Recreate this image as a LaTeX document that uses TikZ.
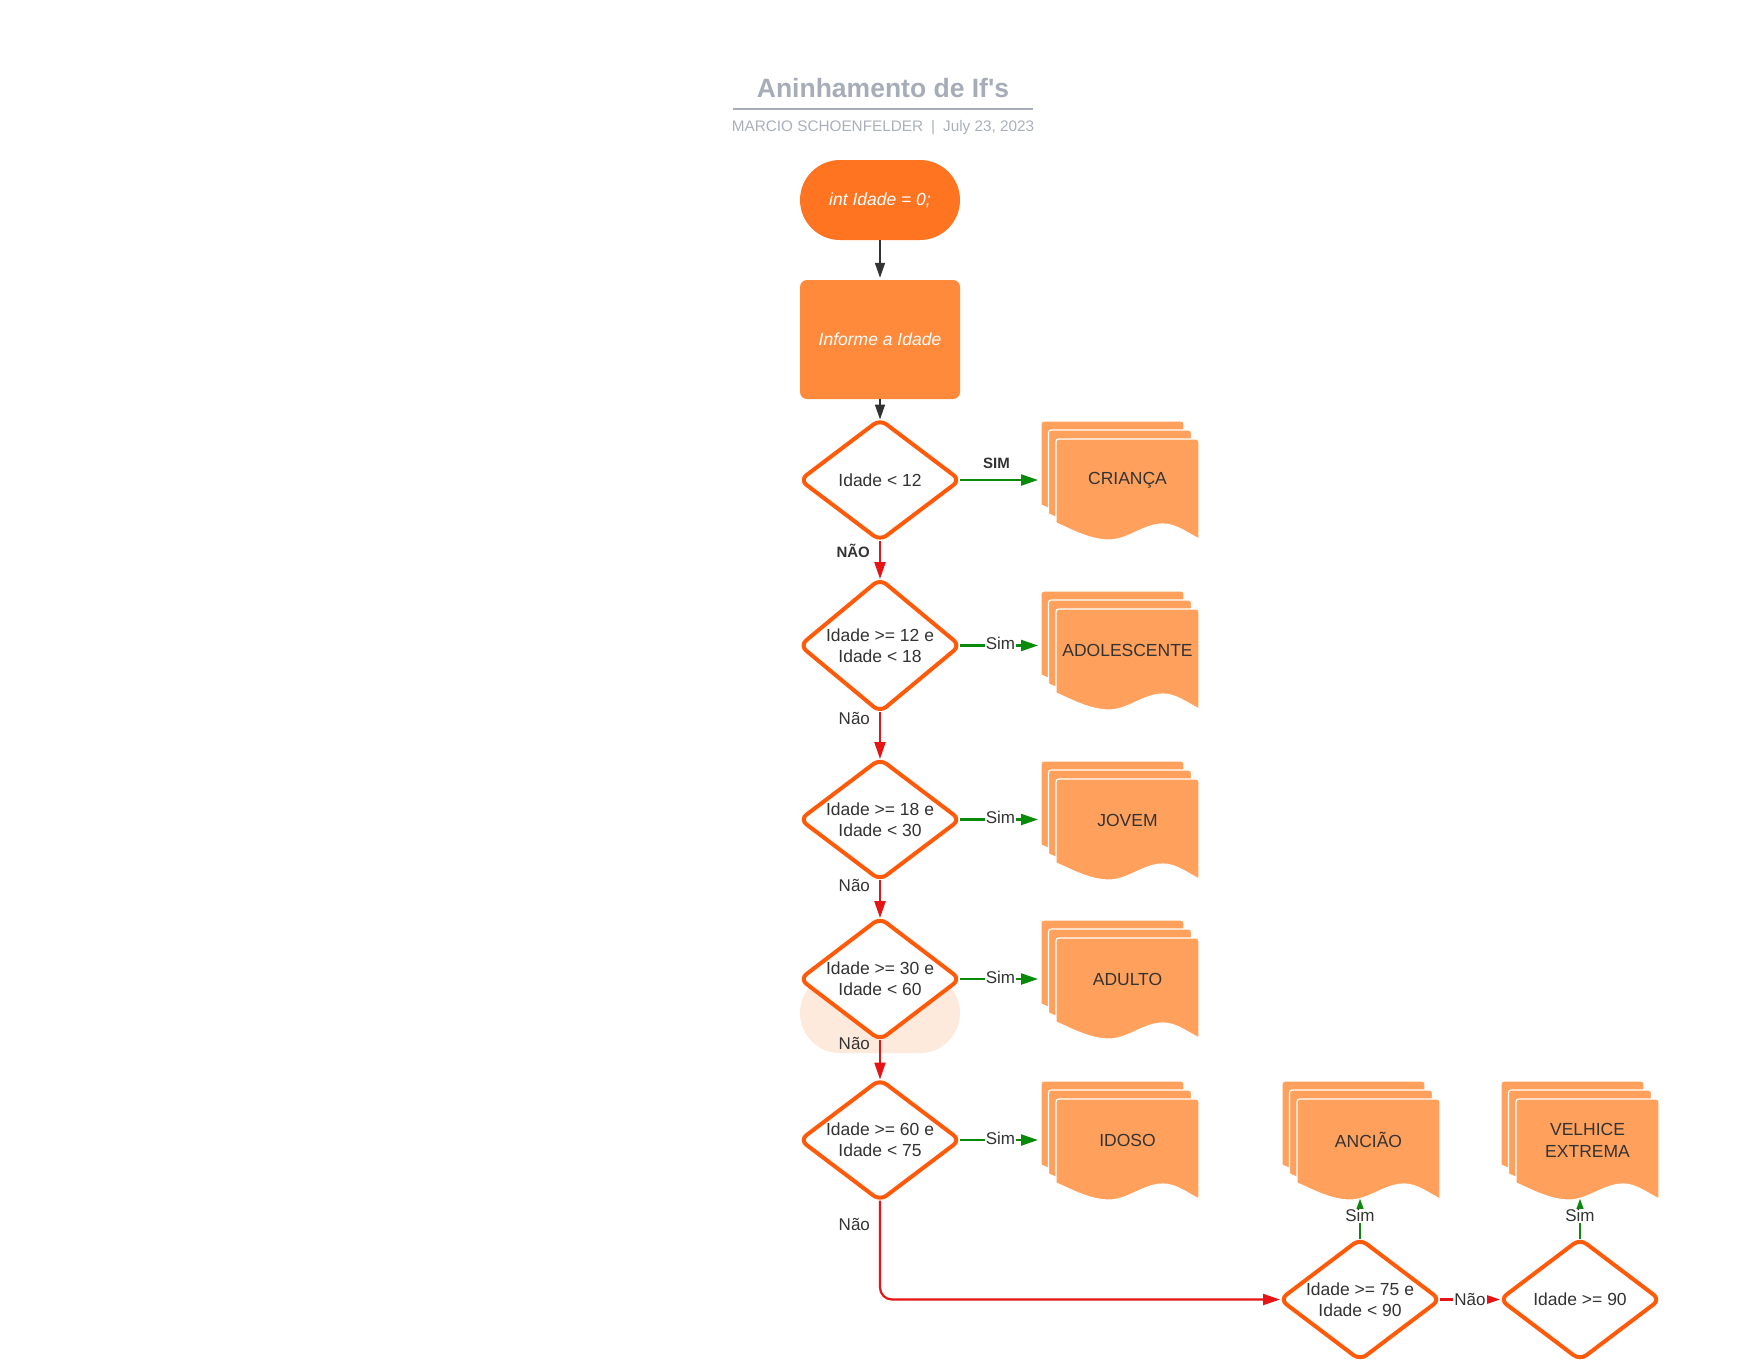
\documentclass[tikz,border=0pt]{standalone}
\usepackage{fontspec}
\setmainfont{Liberation Sans}
\usetikzlibrary{arrows.meta}

\definecolor{inkdark}{HTML}{333333}
\definecolor{titlegray}{HTML}{A6ADB8}
\definecolor{subgray}{HTML}{AAB0BB}
\definecolor{termfill}{HTML}{FF7421}
\definecolor{procfill}{HTML}{FF8A3B}
\definecolor{decedge}{HTML}{FF5A0A}
\definecolor{docfill}{HTML}{FFA15C}
\definecolor{ghostfill}{HTML}{FEEADC}
\definecolor{yesgreen}{HTML}{0A8A0A}
\definecolor{nored}{HTML}{E61414}

\tikzset{
  term/.style={rectangle, rounded corners=40pt, minimum width=160pt, minimum height=80pt,
    fill=termfill, text=white, font=\itshape\fontsize{17.5}{21}\selectfont},
  ghost/.style={rectangle, rounded corners=40pt, minimum width=160pt, minimum height=80pt,
    fill=ghostfill},
  proc/.style={rectangle, rounded corners=7pt, minimum width=160pt, minimum height=119pt,
    fill=procfill, text=white, font=\itshape\fontsize{17.5}{21}\selectfont},
  decbox/.style={rectangle, minimum width=160pt, inner sep=0pt, outer sep=0pt},
  decline/.style={draw=decedge, fill=white, line width=4pt, rounded corners=8pt, line join=round},
  dectext/.style={align=center, text=inkdark, inner sep=0pt, font=\fontsize{17.5}{21}\selectfont},
  doclayer/.style={fill=docfill, draw=white, line width=1.2pt},
  stackbox/.style={rectangle, minimum width=158pt, minimum height=117pt, inner sep=0pt, outer sep=0pt},
  doctext/.style={align=center, text=inkdark, inner sep=0pt, font=\fontsize{17.5}{22}\selectfont},
  flowarrow/.style={draw=inkdark, line width=1.5pt, -{Triangle[length=15pt,width=10pt]}},
  yesarrow/.style={draw=yesgreen, line width=2.2pt, -{Triangle[length=17pt,width=11pt]}},
  yesup/.style={draw=yesgreen, line width=2.2pt, -{Triangle[length=11pt,width=7pt]}},
  noarrow/.style={draw=nored, line width=2.2pt, -{Triangle[length=17pt,width=11pt]}},
  lblsim/.style={text=inkdark, font=\fontsize{17}{20}\selectfont, fill=white, inner sep=1pt},
  lblnao/.style={text=inkdark, font=\fontsize{17}{20}\selectfont, inner sep=0pt},
  lblbold/.style={text=inkdark, font=\bfseries\fontsize{15}{18}\selectfont, inner sep=0pt},
}

% decision: name, x, y, height, text
\newcommand\decision[5]{%
  \node[decbox, minimum height=#4pt] (#1) at (#2,#3) {};
  \filldraw[decline] (#1.north) -- (#1.east) -- (#1.south) -- (#1.west) -- cycle;
  \node[dectext] (#1-t) at (#1) {#5};
}

% one sheet of a document stack, top-left corner at (#1,#2)
\newcommand\doclayer[2]{%
  \filldraw[doclayer] (#1,#2+84) -- (#1,#2+6) .. controls (#1,#2) .. (#1+6,#2)
    -- (#1+137,#2) .. controls (#1+143,#2) .. (#1+143,#2+6) -- (#1+143,#2+100)
    .. controls (#1+131,#2+94) and (#1+120,#2+85) .. (#1+107,#2+85)
    .. controls (#1+88,#2+85) and (#1+72,#2+101) .. (#1+53,#2+101)
    .. controls (#1+34,#2+101) and (#1+16,#2+91) .. (#1,#2+84) -- cycle;
}

% stack of three documents: name, front sheet x, front sheet y, text
\newcommand\docstack[4]{%
  \foreach \k in {2,1,0}{%
    \pgfmathsetmacro\ax{#2-7.5*\k}%
    \pgfmathsetmacro\by{#3-9*\k}%
    \doclayer{\ax}{\by}%
  }
  \node[stackbox] (#1) at (#2+64,#3+41) {};
  \node[doctext] (#1-t) at (#2+71.5,#3+41) {#4};
}

\begin{document}
\begin{tikzpicture}[x=1pt,y=-1pt]
\useasboundingbox[fill=white] (0,0) rectangle (1760,1360);

% heading
\node[font=\bfseries\fontsize{26.5}{31}\selectfont, text=titlegray, anchor=base, inner sep=0pt]
  (title) at (883,97) {Aninhamento de If\textquotesingle s};
\draw[titlegray, line width=2pt] (733,109) -- (1033,109);
\node[font=\fontsize{15.3}{18}\selectfont, text=subgray, anchor=base, inner sep=0pt]
  (byline) at (883,131) {MARCIO SCHOENFELDER\hspace{8pt}|\hspace{8pt}July 23, 2023};

% faint terminal left behind the fourth test
\node[ghost] (ghost) at (880,1013) {};

% start and input
\node[term] (start) at (880,200) {int Idade = 0;};
\node[proc] (input) at (880,339.5) {Informe a Idade};

% tests
\decision{q1}{880}{480}{121}{Idade < 12}
\decision{q2}{880}{645.5}{133}{Idade >= 12 e\\Idade < 18}
\decision{q3}{880}{819.5}{121}{Idade >= 18 e\\Idade < 30}
\decision{q4}{880}{979}{122}{Idade >= 30 e\\Idade < 60}
\decision{q5}{880}{1140}{121}{Idade >= 60 e\\Idade < 75}
\decision{q6}{1360}{1299.5}{121}{Idade >= 75 e\\Idade < 90}
\decision{q7}{1580}{1299.5}{121}{Idade >= 90}

% results
\docstack{r1}{1056}{439}{CRIANÇA}
\docstack{r2}{1056}{609}{ADOLESCENTE}
\docstack{r3}{1056}{779}{JOVEM}
\docstack{r4}{1056}{938}{ADULTO}
\docstack{r5}{1056}{1099}{IDOSO}
\docstack{r6}{1297}{1099}{ANCIÃO}
\docstack{r7}{1516}{1099}{VELHICE\\EXTREMA}

% main flow
\draw[flowarrow, shorten >=2pt] (start.south) -- (input.north);
\draw[flowarrow] (input.south) -- (q1.north);

% yes branches
\draw[yesarrow, shorten >=3pt] (q1.east) --
  node[lblbold, midway, above=10pt, xshift=-4pt] {SIM} (q1.east -| r1.west);
\draw[yesarrow, shorten >=3pt] (q2.east) -- node[lblsim, yshift=2pt] {Sim} (q2.east -| r2.west);
\draw[yesarrow, shorten >=3pt] (q3.east) -- node[lblsim, yshift=2pt] {Sim} (q3.east -| r3.west);
\draw[yesarrow, shorten >=3pt] (q4.east) -- node[lblsim, yshift=2pt] {Sim} (q4.east -| r4.west);
\draw[yesarrow, shorten >=3pt] (q5.east) -- node[lblsim, yshift=2pt] {Sim} (q5.east -| r5.west);
\draw[yesup] (q6.north) -- node[lblsim, yshift=3pt] {Sim} (q6.north |- r6.south);
\draw[yesup] (q7.north) -- node[lblsim, yshift=3pt] {Sim} (q7.north |- r7.south);

% no branches
\draw[noarrow] (q1.south) -- node[lblbold, pos=0.28, left=9pt] {NÃO} (q2.north);
\draw[noarrow] (q2.south) -- node[lblnao, pos=0.13, left=9pt] {Não} (q3.north);
\draw[noarrow] (q3.south) -- node[lblnao, pos=0.14, left=9pt] {Não} (q4.north);
\draw[noarrow] (q4.south) -- node[lblnao, pos=0.09, left=9pt] {Não} (q5.north);
\draw[noarrow, rounded corners=12pt] (q5.south) |-
  node[lblnao, pos=0.12, left=9pt] {Não} (q6.west);
\draw[noarrow] (q6.east) -- node[lblsim] {Não} (q7.west);

\end{tikzpicture}
\end{document}
